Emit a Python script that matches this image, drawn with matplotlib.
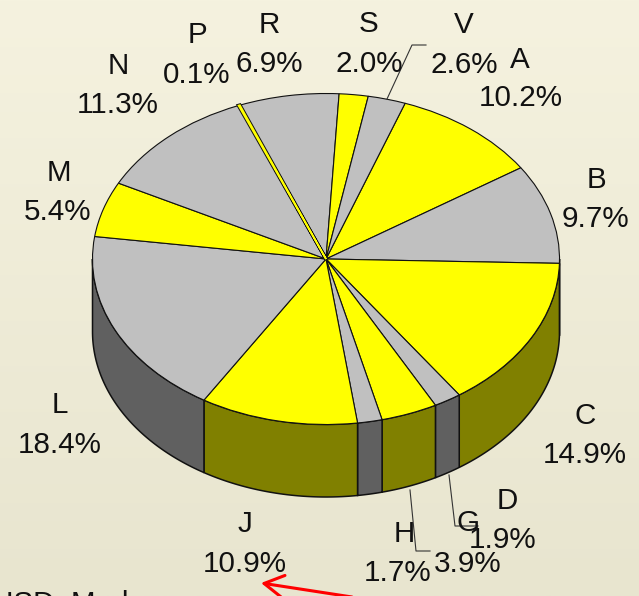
import numpy as np
import matplotlib
matplotlib.use("Agg")
import matplotlib.pyplot as plt
import matplotlib.patheffects as pe

categories = ["A", "B", "C", "D", "G", "H", "J", "L", "M", "N", "P", "R", "S", "V"]
shares = [10.2, 9.7, 14.9, 1.9, 3.9, 1.7, 10.9, 18.4, 5.4, 11.3, 0.1, 6.9, 2.0, 2.6]
top_colors = ["#ffff00", "#c0c0c0"]
side_colors = ["#808000", "#606060"]
name_pos = [(520, 58), (596, 178), (585, 414), (507, 499), (468, 521), (404, 532), (245, 522),
            (60, 403), (59, 171), (118, 64), (197, 33), (269, 23), (369, 22), (464, 23)]
pct_pos = [(521, 96), (595, 217), (585, 453), (503, 538), (468, 562), (398, 571), (245, 562),
           (60, 443), (58, 210), (118, 103), (197, 73), (269, 62), (369, 62), (464, 63)]
leaders = [[(387, 99), (412, 45), (426, 45)],
           [(410, 490), (416, 551), (430, 551)],
           [(449, 475), (455, 526), (478, 526)]]

W, H = 639, 596
CX, CY, RX, RY, DEPTH = 326, 259, 233.5, 165.5, 72.5
START = 19.8  # degrees clockwise from 12 o'clock
TEXT_DY = 2.0

plt.rcParams["font.family"] = ["Liberation Sans", "DejaVu Sans"]
fig = plt.figure(figsize=(W / 100, H / 100), dpi=100)

bg = fig.add_axes([0, 0, 1, 1], zorder=0)
bg.imshow(np.linspace(0, 1, 256).reshape(-1, 1), aspect="auto", extent=(0, W, H, 0),
          cmap=matplotlib.colors.LinearSegmentedColormap.from_list("bg", ["#f5f2df", "#e8e5cf"]))
bg.axis("off")

pie = fig.add_axes([0, 0, 1, 1], zorder=1)
colors = [top_colors[i % 2] for i in range(len(shares))]
wedges, _ = pie.pie(shares, startangle=90 - START, counterclock=False, colors=colors, radius=1, frame=True,
                    wedgeprops=dict(edgecolor="#111111", linewidth=0.8))
# the 0.1% sliver stays visible as a thin yellow stripe between two black lines
sliver = wedges[categories.index("P")]
sliver.set_zorder(3)
sliver.set_path_effects([pe.Stroke(linewidth=2.6, foreground="#111111"),
                         pe.Stroke(linewidth=1.2, foreground="#ffff00")])
pie.set_aspect("auto")
pie.set_xlim(-CX / RX, (W - CX) / RX)
pie.set_ylim((CY - H) / RY, CY / RY)
pie.axis("off")

total = sum(shares)
edges = START + np.concatenate([[0], np.cumsum(shares)]) / total * 360
d = DEPTH / RY
for i in range(len(shares)):
    a, b = max(edges[i], 90), min(edges[i + 1], 270)
    if b <= a:
        continue
    t = np.radians(np.linspace(a, b, 80))
    x, y = np.sin(t), np.cos(t)
    pie.fill(np.r_[x, x[::-1]], np.r_[y, y[::-1] - d], facecolor=side_colors[i % 2],
             edgecolor="#111111", linewidth=1.1, zorder=0.5)

ov = fig.add_axes([0, 0, 1, 1], zorder=2)
ov.set_xlim(0, W)
ov.set_ylim(H, 0)
ov.axis("off")
ov.patch.set_alpha(0)
for pts in leaders:
    xs, ys = zip(*pts)
    ov.plot(xs, ys, color="#333333", lw=0.8)
for name, p, n, q in zip(categories, shares, name_pos, pct_pos):
    ov.text(n[0], n[1] + TEXT_DY, name, fontsize=21.3, ha="center", va="center", color="#111111")
    ov.text(q[0], q[1] + TEXT_DY, f"{p:.1f}%", fontsize=21.3, ha="center", va="center", color="#111111")

ov.annotate("", xy=(261, 583), xytext=(352, 597),
            arrowprops=dict(arrowstyle="->,head_length=1.4,head_width=0.8", color="#ff0000", lw=2.2,
                            shrinkA=0, shrinkB=0), annotation_clip=False)
ov.text(-8, 612, "USD: Mark", fontsize=21.3, ha="left", va="baseline", color="#111111", clip_on=True)

fig.savefig("out.png", dpi=100)
